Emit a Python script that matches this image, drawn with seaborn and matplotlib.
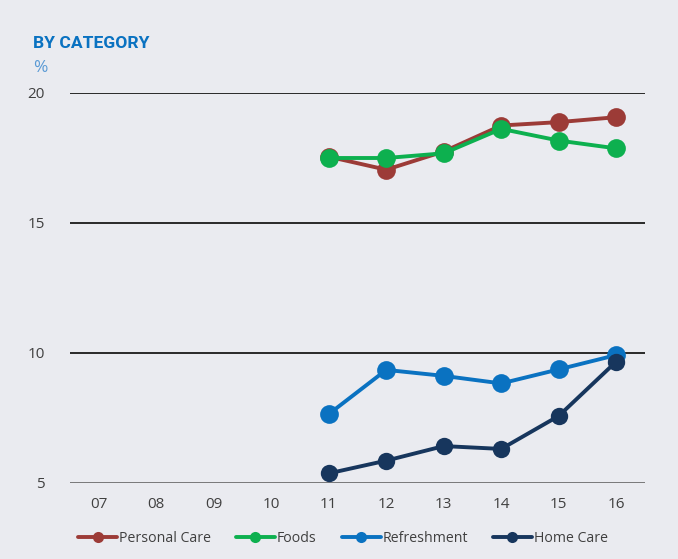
import matplotlib
matplotlib.use("Agg")
import matplotlib.pyplot as plt
from matplotlib.lines import Line2D
import seaborn as sns
import pandas as pd
import numpy as np

years = [7, 8, 9, 10, 11, 12, 13, 14, 15, 16]
year_labels = ["07", "08", "09", "10", "11", "12", "13", "14", "15", "16"]
personal_care = [np.nan, np.nan, np.nan, np.nan, 17.55, 17.05, 17.75, 18.75, 18.88, 19.07]
foods = [np.nan, np.nan, np.nan, np.nan, 17.5, 17.5, 17.68, 18.62, 18.17, 17.87]
refreshment = [np.nan, np.nan, np.nan, np.nan, 7.65, 9.35, 9.12, 8.83, 9.37, 9.92]
home_care = [np.nan, np.nan, np.nan, np.nan, 5.37, 5.86, 6.42, 6.31, 7.58, 9.67]
y_ticks = [5, 10, 15, 20]

series = {
    "Personal Care": personal_care,
    "Foods": foods,
    "Refreshment": refreshment,
    "Home Care": home_care,
}
colors = {
    "Personal Care": "#9C3B37",
    "Foods": "#0DB04F",
    "Refreshment": "#0A72C1",
    "Home Care": "#17365D",
}
marker_sizes = {"Personal Care": 13.5, "Foods": 13.5, "Refreshment": 13.5, "Home Care": 12.5}

rows = []
for name, vals in series.items():
    for yr, v in zip(years, vals):
        rows.append({"year": yr, "value": v, "category": name})
df = pd.DataFrame(rows)

bg = "#EAEBF0"
sns.set_style("white")
plt.rcParams["font.family"] = ["Open Sans", "DejaVu Sans"]

fig = plt.figure(figsize=(6.78, 5.59), dpi=100, facecolor=bg)
ax = fig.add_axes([70 / 678, 1 - 483 / 559, 575 / 678, 390 / 559])
ax.set_facecolor(bg)

for name in series:
    sub = df[df["category"] == name].dropna()
    sns.lineplot(data=sub, x="year", y="value", ax=ax, color=colors[name],
                 linewidth=2.8, marker="o", markersize=marker_sizes[name],
                 markeredgewidth=0, label=name, legend=False)

ax.set_xlim(6.5, 16.5)
ax.set_ylim(5, 20)
ax.set_xticks(years)
ax.set_xticklabels(year_labels)
ax.set_yticks(y_ticks)
ax.set_yticklabels([str(t) for t in y_ticks])
for t in [10, 15, 20]:
    ax.axhline(t, color="#1a1a1a", linewidth=1.3, zorder=0)
ax.axhline(5, color="#707070", linewidth=1.3, zorder=0)
for s in ax.spines.values():
    s.set_visible(False)
ax.tick_params(axis="both", length=0, labelsize=11, labelcolor="#404040")
ax.tick_params(axis="y", pad=18)
ax.tick_params(axis="x", pad=10)
ax.set_xlabel("")
ax.set_ylabel("")

handles = [Line2D([0], [0], color=colors[n], linewidth=2.8, marker="o",
                  markersize=8, markeredgewidth=0) for n in series]
fig.legend(handles, list(series.keys()), loc="center", bbox_to_anchor=(0.506, 1 - 538 / 559),
           ncol=4, frameon=False, fontsize=10.2, handlelength=2.75, handletextpad=0.15,
           columnspacing=1.75, labelcolor="#404040")

fig.text(33 / 678, 1 - 44 / 559, "BY CATEGORY", color="#0A72C1", fontsize=12.6,
         fontweight="bold", family=["Roboto", "DejaVu Sans"], va="center", ha="left")
fig.text(33 / 678, 1 - 68 / 559, "%", color="#5A9AD5", fontsize=12.5, va="center", ha="left")

fig.savefig("out.png", dpi=100, facecolor=bg)
